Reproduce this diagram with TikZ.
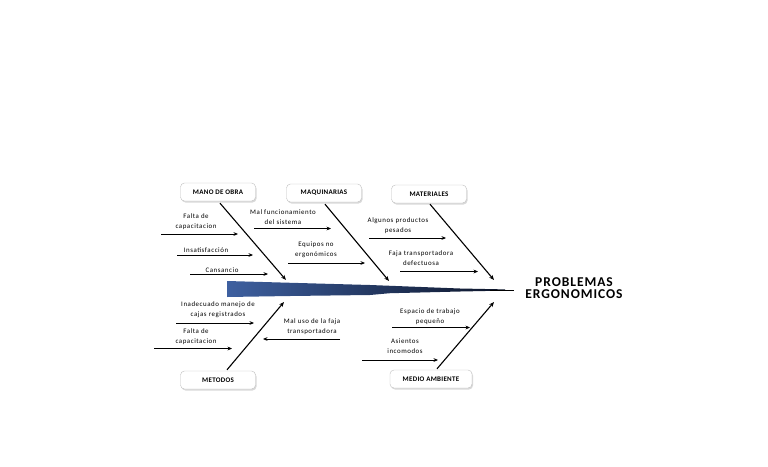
\documentclass[tikz,border=0pt]{standalone}
\usepackage{fontspec}
\setmainfont{Carlito}
\newfontfamily\lblfont[LetterSpace=8]{Carlito}
\newfontfamily\boxfont[LetterSpace=4]{Carlito}
\newfontfamily\ttlfont[LetterSpace=7]{Carlito}
\usetikzlibrary{arrows.meta,shadows}
\definecolor{spineblue}{RGB}{62,96,160}
\definecolor{spinedark}{RGB}{12,20,40}
\begin{document}
\begin{tikzpicture}[x=1pt,y=-1pt,
  catbox/.style={draw=gray!50, rounded corners=4pt, fill=white, minimum width=75pt, minimum height=18pt, inner sep=0pt,
    font=\boxfont\bfseries\fontsize{7}{8}\selectfont,
    drop shadow={shadow xshift=1pt, shadow yshift=-1.5pt, opacity=0.3}},
  lbl/.style={font=\lblfont\fontsize{6.9}{10}\selectfont, align=center, inner sep=0pt},
  arr/.style={-{Stealth[length=4.5pt,width=3.8pt]}, line width=1pt},
  bone/.style={-{Stealth[length=5pt,width=4pt]}, line width=1.1pt}]
\useasboundingbox (0,0) rectangle (768,466);

% spine
\shade[left color=spineblue, right color=spinedark]
  (227,281) -- (370,285) -- (460,288.5) -- (505,289.4) -- (505,290.6) -- (460,291.5)
  -- (420,292.5) -- (390,293.2) -- (370,295) -- (290,296) -- (227,297) -- cycle;
\coordinate (sp1) at (490,290);
\coordinate (sp2) at (514,290);
\draw[line width=0.8pt] (sp1) -- (sp2);

% effect
\node[font=\ttlfont\bfseries\fontsize{13.5}{14}\selectfont, align=center, inner sep=0pt] (effect) at (574,288)
  {PROBLEMAS\\[-1.5pt]ERGONOMICOS};

% category boxes
\node[catbox] (mano) at (218,192) {MANO DE OBRA};
\node[catbox] (maq) at (324,193) {MAQUINARIAS};
\node[catbox] (mat) at (429,194) {MATERIALES};
\node[catbox] (met) at (218,380) {METODOS};
\node[catbox, minimum width=82pt] (med) at (431,379) {MEDIO AMBIENTE};

% bone end points
\coordinate (eMano) at (286,280);
\coordinate (eMaq) at (389,281);
\coordinate (eMat) at (494,280);
\coordinate (eMet) at (284,302);
\coordinate (eMed) at (494,302);

\draw[bone] (mano.south) ++(2,2) coordinate (sMano) -- (eMano);
\draw[bone] (maq.south) ++(1,2) coordinate (sMaq) -- (eMaq);
\draw[bone] (mat.south) ++(1,1) coordinate (sMat) -- (eMat);
\draw[bone] (met.north) ++(9,-1) coordinate (sMet) -- (eMet);
\draw[bone] (med.north) ++(6,-1) coordinate (sMed) -- (eMed);

% MANO DE OBRA causes
\node[lbl] (c1) at (196,222) {Falta de\\capacitacion};
\coordinate (c1a) at (161,234); \coordinate (c1b) at (238,234);
\draw[arr] (c1a) -- (c1b);
\node[lbl] (c2) at (206,250.5) {Insatisfacción};
\coordinate (c2a) at (177,255); \coordinate (c2b) at (253,255);
\draw[arr] (c2a) -- (c2b);
\node[lbl] (c3) at (222,270) {Cansancio};
\coordinate (c3a) at (190,274); \coordinate (c3b) at (268,274);
\draw[arr] (c3a) -- (c3b);

% MAQUINARIAS causes
\node[lbl] (c4) at (283,217) {Mal funcionamiento\\del sistema};
\coordinate (c4a) at (254,228.5); \coordinate (c4b) at (331,228.5);
\draw[arr] (c4a) -- (c4b);
\node[lbl] (c5) at (316,250) {Equipos no\\ergonómicos};
\coordinate (c5a) at (288,263); \coordinate (c5b) at (365,263);
\draw[arr] (c5a) -- (c5b);

% MATERIALES causes
\node[lbl] (c6) at (398,226) {Algunos productos\\pesados};
\coordinate (c6a) at (369,238); \coordinate (c6b) at (446,238);
\draw[arr] (c6a) -- (c6b);
\node[lbl] (c7) at (421,258.5) {Faja transportadora\\defectuosa};
\coordinate (c7a) at (400,271.5); \coordinate (c7b) at (478,271.5);
\draw[arr] (c7a) -- (c7b);

% METODOS causes
\node[lbl] (c8) at (218,309.5) {Inadecuado manejo de\\cajas registrados};
\coordinate (c8a) at (176,323); \coordinate (c8b) at (254,323);
\draw[arr] (c8a) -- (c8b);
\node[lbl] (c9) at (196,336.5) {Falta de\\capacitacion};
\coordinate (c9a) at (154,348.5); \coordinate (c9b) at (232,348.5);
\draw[arr] (c9a) -- (c9b);
\node[lbl] (c10) at (312,327) {Mal uso de la faja\\transportadora};
\coordinate (c10a) at (340,339); \coordinate (c10b) at (263,339);
\draw[arr] (c10a) -- (c10b);

% MEDIO AMBIENTE causes
\node[lbl] (c11) at (430,317) {Espacio de trabajo\\pequeño};
\coordinate (c11a) at (392,327.5); \coordinate (c11b) at (470,327.5);
\draw[arr] (c11a) -- (c11b);
\node[lbl] (c12) at (405,346) {Asientos\\incomodos};
\coordinate (c12a) at (362,360); \coordinate (c12b) at (438,360);
\draw[arr] (c12a) -- (c12b);
\end{tikzpicture}
\end{document}
